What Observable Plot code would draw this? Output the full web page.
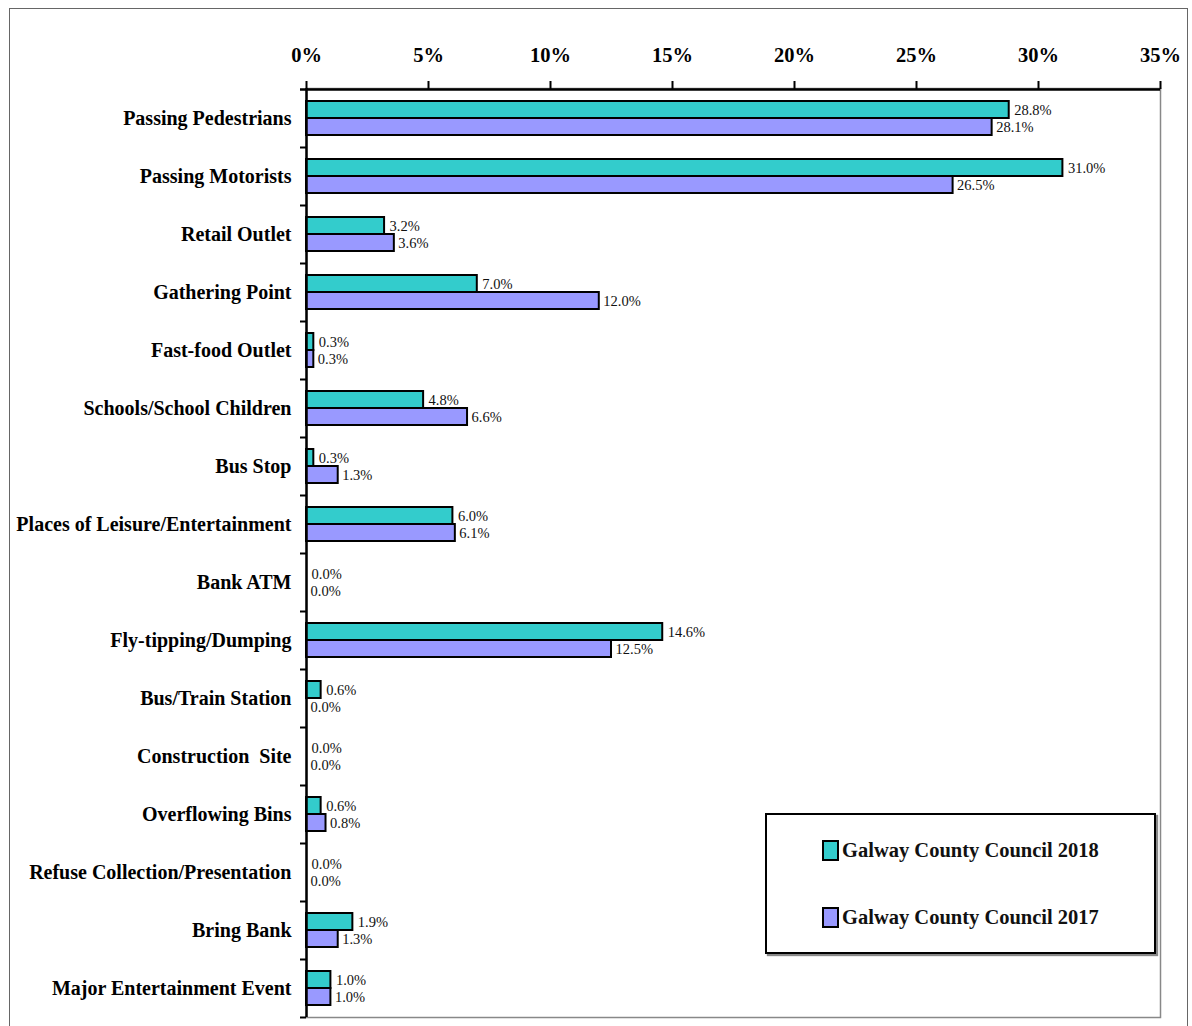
<!DOCTYPE html>
<html>
<head>
<meta charset="utf-8">
<script src="https://cdn.jsdelivr.net/npm/d3@7"></script>
<script src="https://cdn.jsdelivr.net/npm/@observablehq/plot@0.6"></script>
<style>
  html, body { margin: 0; padding: 0; background: #fff; }
  #wrap { position: relative; width: 1192px; height: 1026px; overflow: hidden; }
  #outer { position: absolute; left: 9px; top: 8px; width: 1179px; height: 1040px; border: 1px solid #666; box-sizing: border-box; }
  #chart { position: absolute; left: 0; top: 0; }
  #legend { position: absolute; left: 765px; top: 813px; width: 391px; height: 141px; border: 2.5px solid #000; box-sizing: border-box; box-shadow: 2px 2px 1px #888; background: #fff; font-family: "Liberation Serif", "Times New Roman", serif; font-weight: bold; font-size: 20.5px; color: #111; }
  .item { position: absolute; left: 55px; display: flex; align-items: center; white-space: nowrap; }
  .sw { width: 13px; height: 17px; border: 2px solid #000; margin-right: 3px; }
</style>
</head>
<body>
<div id="wrap">
  <div id="outer"></div>
  <div id="chart"></div>
  <div id="legend"></div>
</div>
<script>
const categories = [
  "Passing Pedestrians", "Passing Motorists", "Retail Outlet", "Gathering Point",
  "Fast-food Outlet", "Schools/School Children", "Bus Stop",
  "Places of Leisure/Entertainment", "Bank ATM", "Fly-tipping/Dumping",
  "Bus/Train Station", "Construction  Site", "Overflowing Bins",
  "Refuse Collection/Presentation", "Bring Bank", "Major Entertainment Event"
];
const values2018 = [28.8, 31.0, 3.2, 7.0, 0.3, 4.8, 0.3, 6.0, 0.0, 14.6, 0.6, 0.0, 0.6, 0.0, 1.9, 1.0];
const values2017 = [28.1, 26.5, 3.6, 12.0, 0.3, 6.6, 1.3, 6.1, 0.0, 12.5, 0.0, 0.0, 0.8, 0.0, 1.3, 1.0];
const seriesNames = ["Galway County Council 2018", "Galway County Council 2017"];
const seriesColors = ["#33CCCC", "#9999FF"];
const xTicks = [0, 5, 10, 15, 20, 25, 30, 35];
const xTickLabels = ["0%", "5%", "10%", "15%", "20%", "25%", "30%", "35%"];

const rows2018 = categories.map((c, i) => ({category: c, value: values2018[i]}));
const rows2017 = categories.map((c, i) => ({category: c, value: values2017[i]}));

const serif = "Liberation Serif, Times New Roman, serif";
const half = 29;

const chart = Plot.plot({
  width: 1192,
  height: 1026,
  marginLeft: 306,
  marginRight: 32,
  marginTop: 88,
  marginBottom: 9,
  style: {fontFamily: serif, background: "transparent", color: "#000"},
  x: {domain: [0, 35], axis: null},
  y: {domain: categories, padding: 0, axis: null},
  marks: [
    Plot.frame({stroke: "#888", strokeWidth: 1.5}),
    Plot.barX(rows2018.filter(d => d.value > 0), {x: "value", y: "category", fill: seriesColors[0], stroke: "#000", strokeWidth: 2, insetTop: 12, insetBottom: 29}),
    Plot.barX(rows2017.filter(d => d.value > 0), {x: "value", y: "category", fill: seriesColors[1], stroke: "#000", strokeWidth: 2, insetTop: 29, insetBottom: 12}),
    Plot.text(rows2018, {x: "value", y: "category", text: d => d.value.toFixed(1) + "%", textAnchor: "start", dx: 5, dy: -8, fontSize: 14.5, fill: "#111"}),
    Plot.text(rows2017, {x: "value", y: "category", text: d => d.value.toFixed(1) + "%", textAnchor: "start", dx: 4, dy: 9, fontSize: 14.5, fill: "#111"}),
    Plot.ruleX([0], {stroke: "#000", strokeWidth: 2.5}),
    Plot.ruleY([categories[0]], {x1: 0, x2: 35, dy: -half, insetLeft: -6, stroke: "#000", strokeWidth: 2.5}),
    Plot.ruleY(categories.slice(1), {x1: 0, x2: 0, dy: -half, insetLeft: -6, stroke: "#000", strokeWidth: 2}),
    Plot.ruleY([categories[categories.length - 1]], {x1: 0, x2: 0, dy: half, insetLeft: -6, stroke: "#000", strokeWidth: 2}),
    Plot.axisX({anchor: "top", ticks: xTicks, tickFormat: (d, i) => xTickLabels[xTicks.indexOf(d)], tickSize: 8, tickPadding: 19, strokeWidth: 2, fontSize: 20.5, fontWeight: "bold", label: null}),
    Plot.axisY({tickSize: 0, tickPadding: 15, fontSize: 20, fontWeight: "bold", label: null})
  ]
});
chart.querySelectorAll("text").forEach(t => t.setAttribute("xml:space", "preserve"));
document.getElementById("chart").appendChild(chart);

const legend = document.getElementById("legend");
seriesNames.forEach((name, i) => {
  const item = document.createElement("div");
  item.className = "item";
  item.style.top = (i === 0 ? 24 : 91) + "px";
  const sw = document.createElement("div");
  sw.className = "sw";
  sw.style.background = seriesColors[i];
  const label = document.createElement("span");
  label.textContent = name;
  item.appendChild(sw);
  item.appendChild(label);
  legend.appendChild(item);
});
</script>
</body>
</html>
